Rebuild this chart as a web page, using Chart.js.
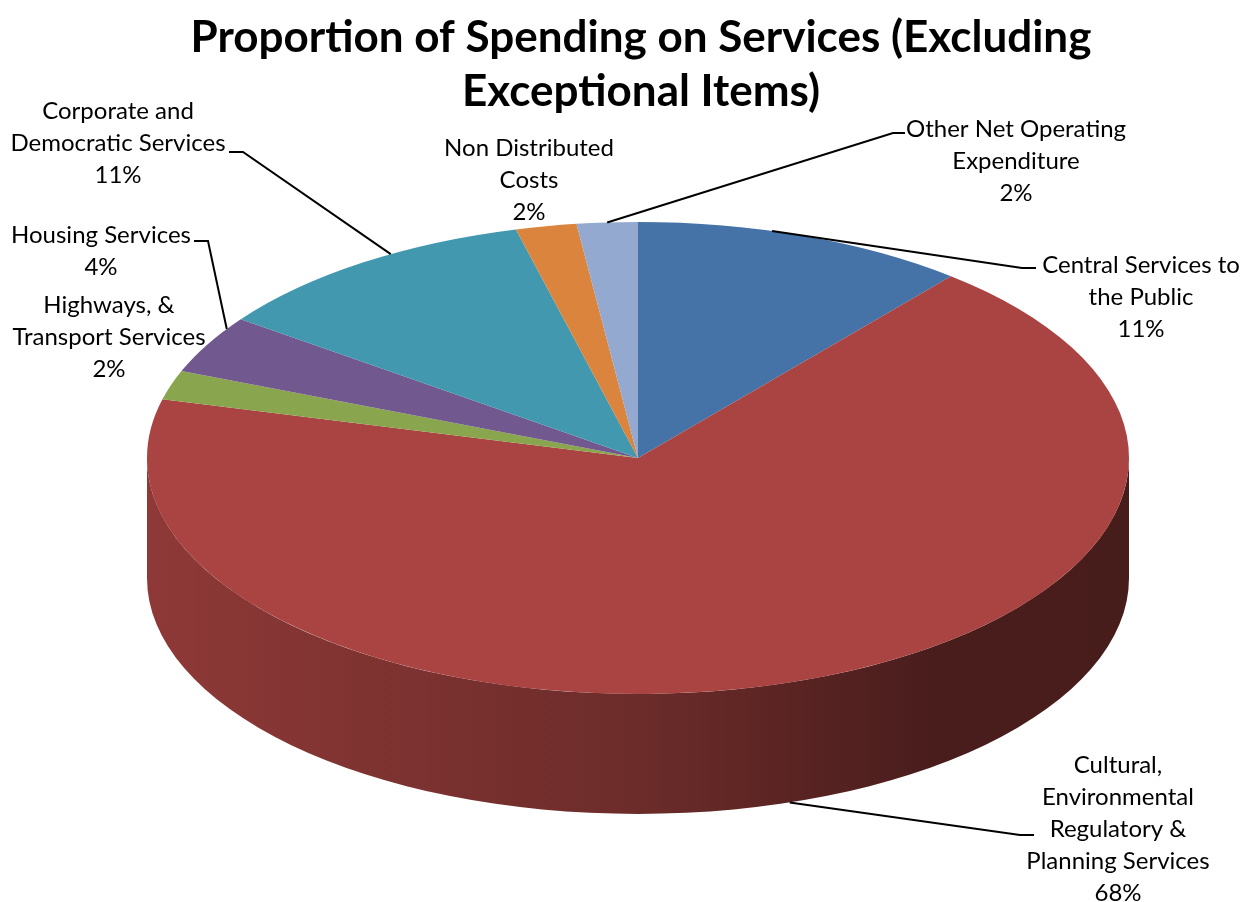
<!DOCTYPE html>
<html>
<head>
<meta charset="utf-8">
<title>Proportion of Spending on Services</title>
<script src="https://cdn.jsdelivr.net/npm/chart.js@4"></script>
<style>
  body { margin: 0; background: #fff; }
  #wrap { width: 1252px; height: 902px; }
</style>
</head>
<body>
<div id="wrap"><canvas id="spendChart" width="1252" height="902"></canvas></div>
<script>
const categories = [
  "Central Services to the Public",
  "Cultural, Environmental Regulatory & Planning Services",
  "Highways, & Transport Services",
  "Housing Services",
  "Corporate and Democratic Services",
  "Non Distributed Costs",
  "Other Net Operating Expenditure",
];
// how each category name is broken over lines in its data label
const labelLines = [
  ["Central Services to", "the Public"],
  ["Cultural,", "Environmental", "Regulatory &", "Planning Services"],
  ["Highways, &", "Transport Services"],
  ["Housing Services"],
  ["Corporate and", "Democratic Services"],
  ["Non Distributed", "Costs"],
  ["Other Net Operating", "Expenditure"],
];
const shares = [11, 68, 2, 4, 11, 2, 2];
const sliceColors = ["#4572A7", "#A94442", "#89A54E", "#71588F", "#4198AF", "#DB843D", "#93A9CF"];
const titleLines = ["Proportion of Spending on Services (Excluding", "Exceptional Items)"];

// label placement: centre x, first line y, leader stub (x from, x to, y), where on the slice it points
const labelSpots = [
  { x: 1141, y: 265, stub: [1036, 1022, 268], at: 0.4, base: false },
  { x: 1118, y: 765, stub: [1034, 1020, 835], at: 0.5, base: true },
  { x: 109, y: 305, stub: null },
  { x: 101, y: 235, stub: [194, 208, 241], at: 0.8, base: false },
  { x: 118, y: 111, stub: [229, 243, 152], at: 0.6, base: false },
  { x: 529, y: 148, stub: null },
  { x: 1016, y: 129, stub: [905, 893, 133], at: 0.5, base: false },
];

const HALF_WIDTH = 491;   // horizontal radius of the pie top
const DEPTH = 120;        // thickness of the pie
const LINE_H = 32;
const LABEL_FONT = "24px Lato";
const TITLE_FONT = "bold 44px Lato";

function shade(hex, f) {
  const n = parseInt(hex.slice(1), 16);
  const r = Math.round(((n >> 16) & 255) * f);
  const g = Math.round(((n >> 8) & 255) * f);
  const b = Math.round((n & 255) * f);
  return `rgb(${r},${g},${b})`;
}

// draws the pie as a tilted disc: side walls first, then the top squashed into an ellipse
const pie3d = {
  id: "pie3d",
  beforeDatasetsDraw(chart) {
    const ctx = chart.ctx;
    const arcs = chart.getDatasetMeta(0).data;
    const { x: cx, y: cy, outerRadius: ry } = arcs[0];
    const rx = HALF_WIDTH;

    arcs.forEach((arc, i) => {
      [0, 2 * Math.PI].forEach((k) => {
        const s = Math.max(arc.startAngle, k);
        const e = Math.min(arc.endAngle, k + Math.PI);
        if (e <= s) return;
        const grad = ctx.createLinearGradient(cx - rx, 0, cx + rx, 0);
        const base = sliceColors[i];
        grad.addColorStop(0, shade(base, 0.84));
        grad.addColorStop(0.5, shade(base, 0.64));
        grad.addColorStop(0.8, shade(base, 0.43));
        grad.addColorStop(1, shade(base, 0.42));
        ctx.beginPath();
        ctx.ellipse(cx, cy, rx, ry, 0, s, e, false);
        ctx.ellipse(cx, cy + DEPTH, rx, ry, 0, e, s, true);
        ctx.closePath();
        ctx.fillStyle = grad;
        ctx.fill();
      });
    });

    ctx.save();
    ctx.translate(cx, cy);
    ctx.scale(rx / ry, 1);
    ctx.translate(-cx, -cy);
  },
  afterDatasetsDraw(chart) {
    chart.ctx.restore();
  },
  afterDraw(chart) {
    const ctx = chart.ctx;
    const arcs = chart.getDatasetMeta(0).data;
    const { x: cx, y: cy, outerRadius: ry } = arcs[0];
    const rx = HALF_WIDTH;

    ctx.save();
    ctx.fillStyle = "#000";
    ctx.textAlign = "center";
    ctx.textBaseline = "middle";
    ctx.font = TITLE_FONT;
    titleLines.forEach((t, j) => ctx.fillText(t, 641, 38 + j * 54));

    ctx.strokeStyle = "#000";
    ctx.lineWidth = 2;
    labelSpots.forEach((spot, i) => {
      if (!spot.stub) return;
      const arc = arcs[i];
      const a = arc.startAngle + (arc.endAngle - arc.startAngle) * spot.at;
      const px = cx + rx * Math.cos(a);
      const py = cy + ry * Math.sin(a) + (spot.base ? DEPTH : 0);
      ctx.beginPath();
      ctx.moveTo(spot.stub[0], spot.stub[2]);
      ctx.lineTo(spot.stub[1], spot.stub[2]);
      ctx.lineTo(px, py);
      ctx.stroke();
    });

    ctx.font = LABEL_FONT;
    labelSpots.forEach((spot, i) => {
      const lines = labelLines[i].concat([shares[i] + "%"]);
      lines.forEach((t, j) => ctx.fillText(t, spot.x, spot.y + j * LINE_H));
    });
    ctx.restore();
  },
};

new Chart(document.getElementById("spendChart"), {
  type: "pie",
  data: {
    labels: categories,
    datasets: [{
      data: shares,
      backgroundColor: sliceColors,
      borderWidth: 0,
    }],
  },
  options: {
    responsive: false,
    animation: false,
    devicePixelRatio: 1,
    layout: { padding: { top: 222, bottom: 208, left: 402, right: 378 } },
    plugins: {
      legend: { display: false },
      tooltip: { enabled: false },
      title: { display: false },
    },
  },
  plugins: [pie3d],
});
</script>
</body>
</html>
